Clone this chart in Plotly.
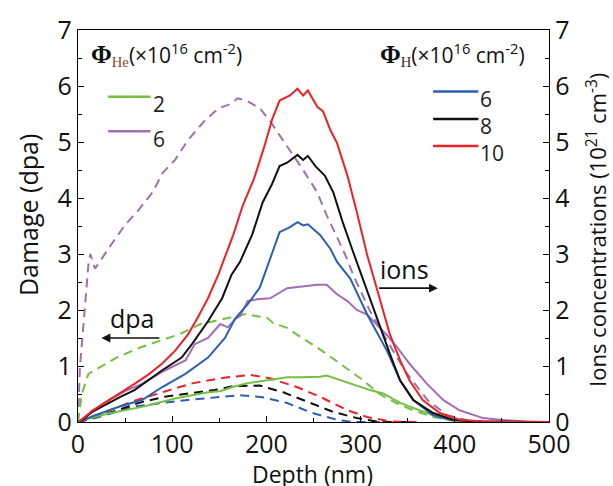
import plotly.graph_objects as go

# ---------------- data (depth in nm) ----------------
# Ion concentration profiles (solid, right axis, 10^21 cm^-3)
h10_ion_x = [0, 4, 15, 32, 45, 60, 75, 89, 103, 117, 127, 138, 149, 154, 165, 175, 187, 198, 206, 214, 225, 233, 239, 244, 254, 260, 268, 275, 286, 296, 307, 321, 331, 342, 352, 366, 384, 405, 430, 460, 500]
h10_ion_y = [0, 0.04, 0.2, 0.39, 0.52, 0.68, 0.85, 1.04, 1.27, 1.57, 1.86, 2.21, 2.63, 2.86, 3.35, 3.87, 4.35, 4.93, 5.4, 5.74, 5.83, 5.95, 5.83, 5.92, 5.63, 5.55, 5.21, 4.98, 4.4, 3.75, 2.98, 2.16, 1.57, 1.1, 0.74, 0.39, 0.16, 0.04, 0.01, 0, 0]

h8_ion_x = [0, 4, 15, 32, 45, 60, 75, 89, 110, 121, 138, 153, 163, 172, 185, 196, 206, 214, 222, 233, 239, 244, 252, 262, 271, 281, 292, 307, 321, 331, 342, 356, 377, 398, 420, 460, 500]
h8_ion_y = [0, 0.03, 0.18, 0.34, 0.45, 0.57, 0.75, 0.92, 1.15, 1.39, 1.8, 2.21, 2.63, 2.86, 3.35, 3.92, 4.25, 4.57, 4.63, 4.77, 4.68, 4.75, 4.57, 4.4, 4.1, 3.57, 3.04, 2.33, 1.68, 1.22, 0.74, 0.39, 0.16, 0.04, 0.01, 0, 0]

h6_ion_x = [0, 4, 15, 32, 45, 57, 68, 89, 114, 138, 156, 167, 180, 193, 205, 214, 225, 233, 239, 244, 257, 268, 275, 289, 307, 328, 342, 356, 377, 395, 420, 500]
h6_ion_y = [0, 0.02, 0.1, 0.21, 0.28, 0.34, 0.39, 0.62, 0.86, 1.15, 1.5, 1.85, 2.1, 2.4, 2.95, 3.39, 3.48, 3.57, 3.51, 3.53, 3.34, 3.09, 2.86, 2.56, 1.92, 1.27, 0.74, 0.39, 0.12, 0.04, 0.01, 0]

he6_ion_x = [0, 7, 20, 32, 50, 68, 92, 114, 124, 138, 151, 159, 167, 172, 180, 190, 204, 222, 239, 254, 264, 275, 286, 296, 307, 317, 328, 339, 352, 370, 388, 405, 430, 448, 480, 500]
he6_ion_y = [0, 0.09, 0.25, 0.38, 0.55, 0.68, 0.92, 1.1, 1.39, 1.5, 1.75, 1.69, 1.84, 1.89, 2.16, 2.19, 2.21, 2.39, 2.42, 2.45, 2.45, 2.28, 2.16, 2.0, 1.92, 1.75, 1.55, 1.33, 1.04, 0.69, 0.39, 0.21, 0.07, 0.04, 0, 0]

he2_ion_x = [0, 4, 32, 68, 103, 138, 151, 163, 179, 200, 222, 236, 257, 264, 286, 310, 324, 342, 353, 377, 395, 420, 500]
he2_ion_y = [0, 0.03, 0.15, 0.27, 0.42, 0.53, 0.55, 0.62, 0.69, 0.75, 0.8, 0.8, 0.81, 0.83, 0.71, 0.57, 0.51, 0.34, 0.27, 0.12, 0.03, 0.01, 0]

# Damage profiles (dashed, left axis, dpa)
he6_dpa_x = [0, 2, 7, 11, 13, 18, 23, 32, 50, 64, 79, 90, 103, 117, 135, 149, 164, 169, 179, 193, 204, 215, 225, 239, 254, 264, 275, 286, 292, 310, 328, 349, 371, 392, 413, 440]
he6_dpa_y = [0, 0.97, 1.98, 2.8, 3.0, 2.74, 2.86, 3.09, 3.52, 3.78, 4.1, 4.45, 4.68, 5.04, 5.39, 5.6, 5.69, 5.78, 5.74, 5.6, 5.37, 5.1, 4.86, 4.5, 4.1, 3.69, 3.3, 2.9, 2.63, 1.98, 1.45, 0.87, 0.39, 0.12, 0.03, 0]

he2_dpa_x = [0, 4, 11, 20, 41, 66, 87, 108, 130, 158, 179, 186, 201, 207, 222, 236, 254, 271, 292, 303, 320, 340, 356, 377, 400, 420]
he2_dpa_y = [0, 0.5, 0.86, 0.95, 1.15, 1.33, 1.45, 1.57, 1.75, 1.86, 1.93, 1.9, 1.86, 1.77, 1.68, 1.52, 1.33, 1.13, 0.88, 0.74, 0.5, 0.32, 0.21, 0.09, 0.02, 0]

h10_dpa_x = [0, 20, 40, 60, 85, 103, 121, 138, 159, 183, 204, 233, 257, 286, 307, 331, 360]
h10_dpa_y = [0, 0.12, 0.25, 0.38, 0.51, 0.6, 0.69, 0.74, 0.8, 0.84, 0.78, 0.62, 0.45, 0.21, 0.09, 0.01, 0]

h8_dpa_x = [0, 20, 40, 64, 92, 117, 145, 165, 193, 218, 246, 271, 296, 320, 350]
h8_dpa_y = [0, 0.1, 0.2, 0.34, 0.45, 0.51, 0.57, 0.64, 0.65, 0.53, 0.34, 0.18, 0.07, 0.0, 0]

h6_dpa_x = [0, 20, 40, 57, 85, 114, 153, 172, 196, 222, 249, 275, 292, 320]
h6_dpa_y = [0, 0.08, 0.18, 0.27, 0.33, 0.39, 0.45, 0.48, 0.44, 0.34, 0.16, 0.04, 0, 0]

x_ticks = [0, 100, 200, 300, 400, 500]
y_ticks = [0, 1, 2, 3, 4, 5, 6, 7]

GREEN = "#74c043"
PURPLE = "#a56db5"
PURPLE_D = "#9b72ae"
BLUE = "#2c5fb0"
BLACK = "#111111"
RED = "#ec2227"
FONT = "Open Sans"

fig = go.Figure()

def add(x, y, color, dash, yaxis, width=2):
    fig.add_trace(go.Scatter(x=x, y=y, mode="lines", yaxis=yaxis,
                             line=dict(color=color, width=width, dash=dash),
                             showlegend=False, hoverinfo="skip"))

DASH = "9px,6px"
# dashed dpa (left axis)
add(he6_dpa_x, he6_dpa_y, PURPLE_D, DASH, "y")
add(he2_dpa_x, he2_dpa_y, GREEN, DASH, "y")
add(h6_dpa_x, h6_dpa_y, BLUE, DASH, "y")
add(h8_dpa_x, h8_dpa_y, BLACK, DASH, "y")
add(h10_dpa_x, h10_dpa_y, RED, DASH, "y")
# solid ion concentrations (right axis)
add(he2_ion_x, he2_ion_y, GREEN, "solid", "y2")
add(he6_ion_x, he6_ion_y, PURPLE, "solid", "y2")
add(h6_ion_x, h6_ion_y, BLUE, "solid", "y2")
add(h8_ion_x, h8_ion_y, BLACK, "solid", "y2")
add(h10_ion_x, h10_ion_y, RED, "solid", "y2")

axis_common = dict(showline=True, linecolor="black", linewidth=1.3,
                   ticks="inside", ticklen=6, tickwidth=1.3, tickcolor="black",
                   showgrid=False, zeroline=False,
                   tickfont=dict(family=FONT, size=25, color="#111"))

fig.update_layout(
    width=613, height=486,
    margin=dict(l=78, r=64, t=26, b=64),
    paper_bgcolor="white", plot_bgcolor="white",
    xaxis=dict(range=[0, 500], tickvals=x_ticks, mirror=True,
               minor=dict(dtick=50, ticklen=4, ticks="inside", tickcolor="black"),
               **axis_common),
    yaxis=dict(range=[0, 7], tickvals=y_ticks,
               minor=dict(dtick=0.5, ticklen=4, ticks="inside", tickcolor="black"),
               **axis_common),
    yaxis2=dict(range=[0, 7], tickvals=y_ticks, overlaying="y", side="right",
                minor=dict(dtick=0.5, ticklen=4, ticks="inside", tickcolor="black"),
                **axis_common),
)

# axis titles
fig.add_annotation(text="Damage (dpa)", xref="paper", yref="paper", x=-0.106, y=0.528,
                   xanchor="center", yanchor="middle",
                   textangle=-90, showarrow=False, font=dict(family=FONT, size=25, color="#111"))
fig.add_annotation(text="Ions concentrations (10<sup>21</sup> cm<sup>-3</sup>)", xref="paper", yref="paper",
                   x=1.102, y=0.49, xanchor="center", yanchor="middle", textangle=-90, showarrow=False,
                   font=dict(family=FONT, size=22, color="#111"))
fig.add_annotation(text="Depth (nm)", xref="paper", yref="paper", x=0.497, y=-0.133,
                   xanchor="center", yanchor="middle",
                   showarrow=False, font=dict(family=FONT, size=23, color="#111"))

# legend (manual)
def legend_title(sub, x, subcolor):
    fig.add_annotation(
        text=("<span style='font-family:Liberation Serif;font-size:25px'><b>Φ</b></span>"
              f"<sub><span style='font-family:Liberation Serif;color:{subcolor}'>{sub}</span></sub>"
              "(×10<sup>16</sup> cm<sup>-2</sup>)"),
        xref="x", yref="y", x=x, y=6.58, xanchor="left", yanchor="middle", showarrow=False,
        font=dict(family=FONT, size=21, color="#111"))

legend_title("He", 12, "#8a4a2a")
legend_title("H", 318, "#3a2a2a")

def legend_item(x0, x1, yv, color, label):
    fig.add_shape(type="line", xref="x", yref="y", x0=x0, x1=x1, y0=yv, y1=yv,
                  line=dict(color=color, width=2.5))
    fig.add_annotation(text=label, xref="x", yref="y", x=x1, y=yv - 0.13, xanchor="left",
                       yanchor="middle", showarrow=False, font=dict(family=FONT, size=21, color="#222"))

legend_item(32, 77, 5.81, GREEN, "2")
legend_item(32, 77, 5.19, PURPLE, "6")
legend_item(377, 425, 5.9, BLUE, "6")
legend_item(377, 425, 5.41, BLACK, "8")
legend_item(377, 425, 4.93, RED, "10")

# dpa / ions labels with arrows
fig.add_annotation(text="dpa", xref="x", yref="y", x=57, y=1.86, showarrow=False,
                   font=dict(family=FONT, size=25, color="#111"))
fig.add_annotation(x=25, y=1.5, ax=88, ay=1.5, xref="x", yref="y", axref="x", ayref="y",
                   text="", showarrow=True, arrowhead=2, arrowsize=1.1, arrowwidth=1.6,
                   arrowcolor="#111")
fig.add_annotation(text="ions", xref="x", yref="y", x=347, y=2.74, showarrow=False,
                   font=dict(family=FONT, size=25, color="#111"))
fig.add_annotation(x=382, y=2.39, ax=318, ay=2.39, xref="x", yref="y", axref="x", ayref="y",
                   text="", showarrow=True, arrowhead=2, arrowsize=1.1, arrowwidth=1.6,
                   arrowcolor="#111")

fig.write_html("out.html")
